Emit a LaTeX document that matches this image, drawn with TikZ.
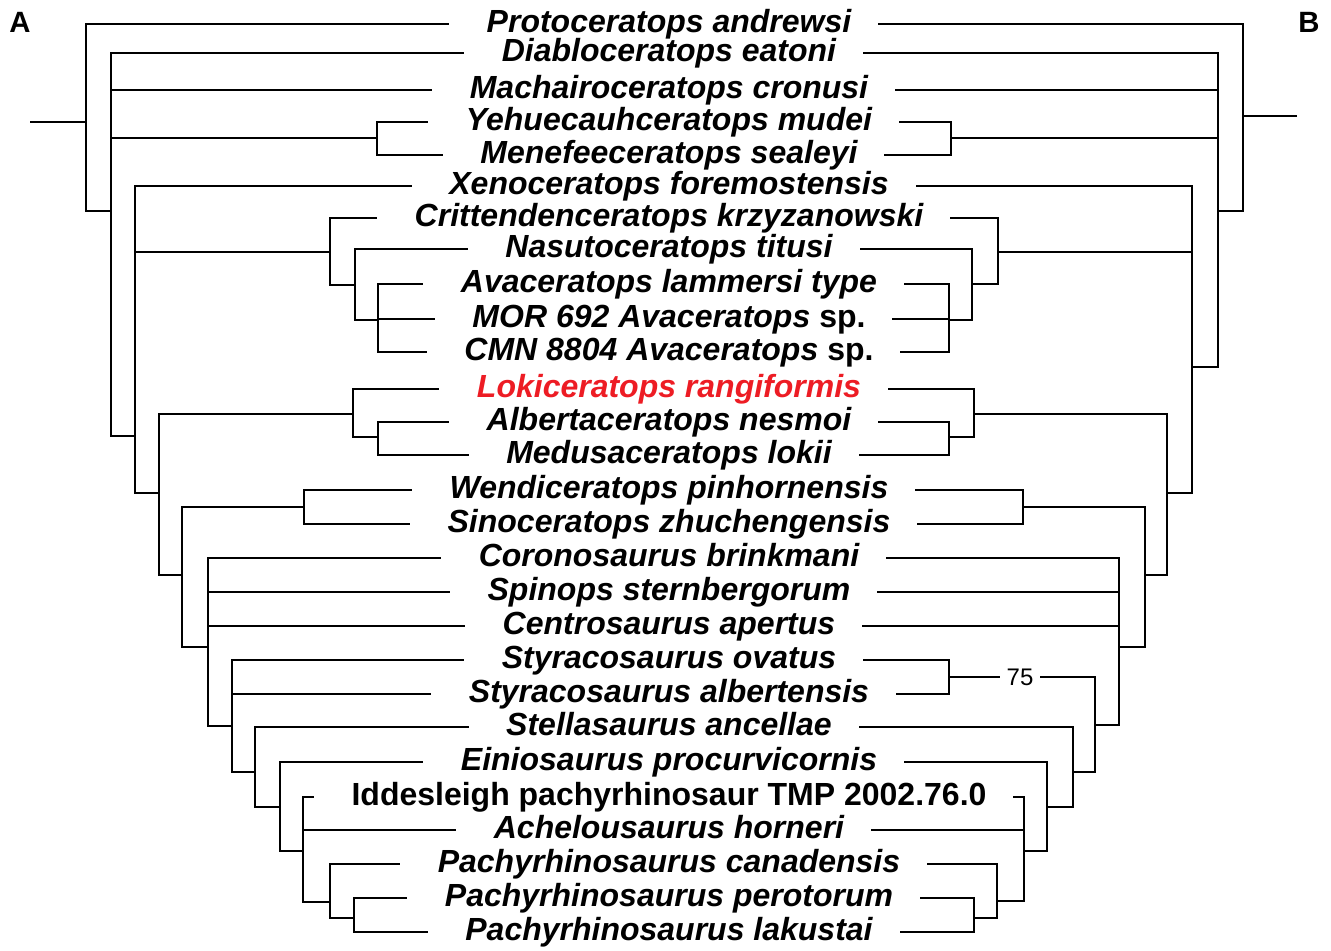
\documentclass[tikz,border=0pt]{standalone}
\usepackage{fontspec}
\setmainfont{Liberation Sans}
\definecolor{lokired}{RGB}{237,28,36}

\tikzstyle{taxon}=[font=\fontsize{24}{28}\selectfont\bfseries\itshape, inner xsep=20pt, inner ysep=0pt, text height=16.5pt, text depth=4pt]
\tikzstyle{branch}=[line width=1.5pt]
\tikzstyle{leafl}=[branch, shorten >=8pt]
\tikzstyle{panel}=[font=\fontsize{22}{26}\selectfont\bfseries]
\tikzstyle{support}=[font=\fontsize{18}{22}\selectfont, inner xsep=5pt, inner ysep=0pt]

\begin{document}
\begin{tikzpicture}[x=0.75pt, y=-0.75pt]
    \useasboundingbox (0,0) rectangle (1331,950);

    \node[panel] (panelA) at (20,22) {A};
    \node[panel] (panelB) at (1309,22) {B};

    \node[taxon] (proto) at (669,24) {Protoceratops andrewsi};
    \node[taxon] (diablo) at (669,53) {Diabloceratops eatoni};
    \node[taxon] (machai) at (669,90) {Machairoceratops cronusi};
    \node[taxon] (yehue) at (669,122) {Yehuecauhceratops mudei};
    \node[taxon] (menef) at (669,155) {Menefeeceratops sealeyi};
    \node[taxon] (xeno) at (669,186) {Xenoceratops foremostensis};
    \node[taxon] (critt) at (669,218) {Crittendenceratops krzyzanowski};
    \node[taxon] (nasuto) at (669,249) {Nasutoceratops titusi};
    \node[taxon] (avatype) at (669,284) {Avaceratops lammersi type};
    \node[taxon] (mor) at (669,319) {MOR 692 Avaceratops \upshape sp.};
    \node[taxon] (cmn) at (669,352) {CMN 8804 Avaceratops \upshape sp.};
    \node[taxon, text=lokired] (loki) at (669,389) {Lokiceratops rangiformis};
    \node[taxon] (alberta) at (669,422) {Albertaceratops nesmoi};
    \node[taxon] (medusa) at (669,455) {Medusaceratops lokii};
    \node[taxon] (wendi) at (669,490) {Wendiceratops pinhornensis};
    \node[taxon] (sino) at (669,524) {Sinoceratops zhuchengensis};
    \node[taxon] (corono) at (669,558) {Coronosaurus brinkmani};
    \node[taxon] (spinops) at (669,592) {Spinops sternbergorum};
    \node[taxon] (centro) at (669,626) {Centrosaurus apertus};
    \node[taxon] (styovat) at (669,660) {Styracosaurus ovatus};
    \node[taxon] (styalb) at (669,694) {Styracosaurus albertensis};
    \node[taxon] (stella) at (669,727) {Stellasaurus ancellae};
    \node[taxon] (einio) at (669,762) {Einiosaurus procurvicornis};
    \node[taxon] (iddes) at (669,797) {\upshape Iddesleigh pachyrhinosaur TMP 2002.76.0};
    \node[taxon] (achel) at (669,830) {Achelousaurus horneri};
    \node[taxon] (pcanad) at (669,864) {Pachyrhinosaurus canadensis};
    \node[taxon] (pperot) at (669,898) {Pachyrhinosaurus perotorum};
    \node[taxon] (plakus) at (669,932) {Pachyrhinosaurus lakustai};

    \coordinate (l-stub) at (30,122);
    \coordinate (l-root) at (86,122);
    \coordinate (l-cera) at (111,211);
    \coordinate (l-yeme) at (377,138);
    \coordinate (l-cent) at (135,436);
    \coordinate (l-crit) at (330,252);
    \coordinate (l-nasu) at (355,285);
    \coordinate (l-avac) at (378,320);
    \coordinate (l-dd) at (159,493);
    \coordinate (l-loki) at (353,414);
    \coordinate (l-albm) at (378,437);
    \coordinate (l-ee) at (182,575);
    \coordinate (l-wesi) at (304,507);
    \coordinate (l-ff) at (208,647);
    \coordinate (l-gg) at (232,726);
    \coordinate (l-hh) at (255,772);
    \coordinate (l-ii) at (280,807);
    \coordinate (l-jj) at (303,851);
    \coordinate (l-kk) at (330,902);
    \coordinate (l-ll) at (354,918);

    \draw[branch] (l-stub) -- (l-root);
    \draw[leafl] (l-root) |- (proto.west);
    \draw[branch] (l-root) |- (l-cera);
    \draw[leafl] (l-cera) |- (diablo.west);
    \draw[leafl] (l-cera) |- (machai.west);
    \draw[branch] (l-cera) |- (l-yeme);
    \draw[branch] (l-cera) |- (l-cent);
    \draw[leafl] (l-yeme) |- (yehue.west);
    \draw[leafl] (l-yeme) |- (menef.west);
    \draw[leafl] (l-cent) |- (xeno.west);
    \draw[branch] (l-cent) |- (l-crit);
    \draw[branch] (l-cent) |- (l-dd);
    \draw[leafl] (l-crit) |- (critt.west);
    \draw[branch] (l-crit) |- (l-nasu);
    \draw[leafl] (l-nasu) |- (nasuto.west);
    \draw[branch] (l-nasu) |- (l-avac);
    \draw[leafl] (l-avac) |- (avatype.west);
    \draw[leafl] (l-avac) |- (mor.west);
    \draw[leafl] (l-avac) |- (cmn.west);
    \draw[branch] (l-dd) |- (l-loki);
    \draw[branch] (l-dd) |- (l-ee);
    \draw[leafl] (l-loki) |- (loki.west);
    \draw[branch] (l-loki) |- (l-albm);
    \draw[leafl] (l-albm) |- (alberta.west);
    \draw[leafl] (l-albm) |- (medusa.west);
    \draw[branch] (l-ee) |- (l-wesi);
    \draw[branch] (l-ee) |- (l-ff);
    \draw[leafl] (l-wesi) |- (wendi.west);
    \draw[leafl] (l-wesi) |- (sino.west);
    \draw[leafl] (l-ff) |- (corono.west);
    \draw[leafl] (l-ff) |- (spinops.west);
    \draw[leafl] (l-ff) |- (centro.west);
    \draw[branch] (l-ff) |- (l-gg);
    \draw[leafl] (l-gg) |- (styovat.west);
    \draw[leafl] (l-gg) |- (styalb.west);
    \draw[branch] (l-gg) |- (l-hh);
    \draw[leafl] (l-hh) |- (stella.west);
    \draw[branch] (l-hh) |- (l-ii);
    \draw[leafl] (l-ii) |- (einio.west);
    \draw[branch] (l-ii) |- (l-jj);
    \draw[leafl] (l-jj) |- (iddes.west);
    \draw[leafl] (l-jj) |- (achel.west);
    \draw[branch] (l-jj) |- (l-kk);
    \draw[leafl] (l-kk) |- (pcanad.west);
    \draw[branch] (l-kk) |- (l-ll);
    \draw[leafl] (l-ll) |- (pperot.west);
    \draw[leafl] (l-ll) |- (plakus.west);

    \coordinate (r-stub) at (1297,116);
    \coordinate (r-root) at (1243,116);
    \coordinate (r-cera) at (1218,211);
    \coordinate (r-yeme) at (951,138);
    \coordinate (r-cent) at (1192,367);
    \coordinate (r-crit) at (998,252);
    \coordinate (r-nasu) at (972,284);
    \coordinate (r-avac) at (949,320);
    \coordinate (r-dd) at (1167,493);
    \coordinate (r-loki) at (974,414);
    \coordinate (r-albm) at (949,437);
    \coordinate (r-ee) at (1145,575);
    \coordinate (r-wesi) at (1023,507);
    \coordinate (r-ff) at (1119,647);
    \coordinate (r-gg) at (1095,725);
    \coordinate (r-styr) at (949,677);
    \coordinate (r-hh) at (1073,772);
    \coordinate (r-ii) at (1047,807);
    \coordinate (r-jj) at (1024,851);
    \coordinate (r-kk) at (997,901);
    \coordinate (r-ll) at (974,918);

    \node[support] (boot75) at (1020,677) {75};

    \draw[branch] (r-stub) -- (r-root);
    \draw[branch] (r-root) |- (proto.east);
    \draw[branch] (r-root) |- (r-cera);
    \draw[branch] (r-cera) |- (diablo.east);
    \draw[branch] (r-cera) |- (machai.east);
    \draw[branch] (r-cera) |- (r-yeme);
    \draw[branch] (r-cera) |- (r-cent);
    \draw[branch] (r-yeme) |- (yehue.east);
    \draw[branch] (r-yeme) |- (menef.east);
    \draw[branch] (r-cent) |- (xeno.east);
    \draw[branch] (r-cent) |- (r-crit);
    \draw[branch] (r-cent) |- (r-dd);
    \draw[branch] (r-crit) |- (critt.east);
    \draw[branch] (r-crit) |- (r-nasu);
    \draw[branch] (r-nasu) |- (nasuto.east);
    \draw[branch] (r-nasu) |- (r-avac);
    \draw[branch] (r-avac) |- (avatype.east);
    \draw[branch] (r-avac) |- (mor.east);
    \draw[branch] (r-avac) |- (cmn.east);
    \draw[branch] (r-dd) |- (r-loki);
    \draw[branch] (r-dd) |- (r-ee);
    \draw[branch] (r-loki) |- (loki.east);
    \draw[branch] (r-loki) |- (r-albm);
    \draw[branch] (r-albm) |- (alberta.east);
    \draw[branch] (r-albm) |- (medusa.east);
    \draw[branch] (r-ee) |- (r-wesi);
    \draw[branch] (r-ee) |- (r-ff);
    \draw[branch] (r-wesi) |- (wendi.east);
    \draw[branch] (r-wesi) |- (sino.east);
    \draw[branch] (r-ff) |- (corono.east);
    \draw[branch] (r-ff) |- (spinops.east);
    \draw[branch] (r-ff) |- (centro.east);
    \draw[branch] (r-ff) |- (r-gg);
    \draw[branch] (r-gg) |- (boot75);
    \draw[branch] (r-styr) -- (boot75);
    \draw[branch] (r-styr) |- (styovat.east);
    \draw[branch] (r-styr) |- (styalb.east);
    \draw[branch] (r-gg) |- (r-hh);
    \draw[branch] (r-hh) |- (stella.east);
    \draw[branch] (r-hh) |- (r-ii);
    \draw[branch] (r-ii) |- (einio.east);
    \draw[branch] (r-ii) |- (r-jj);
    \draw[branch] (r-jj) |- (iddes.east);
    \draw[branch] (r-jj) |- (achel.east);
    \draw[branch] (r-jj) |- (r-kk);
    \draw[branch] (r-kk) |- (pcanad.east);
    \draw[branch] (r-kk) |- (r-ll);
    \draw[branch] (r-ll) |- (pperot.east);
    \draw[branch] (r-ll) |- (plakus.east);
\end{tikzpicture}
\end{document}
